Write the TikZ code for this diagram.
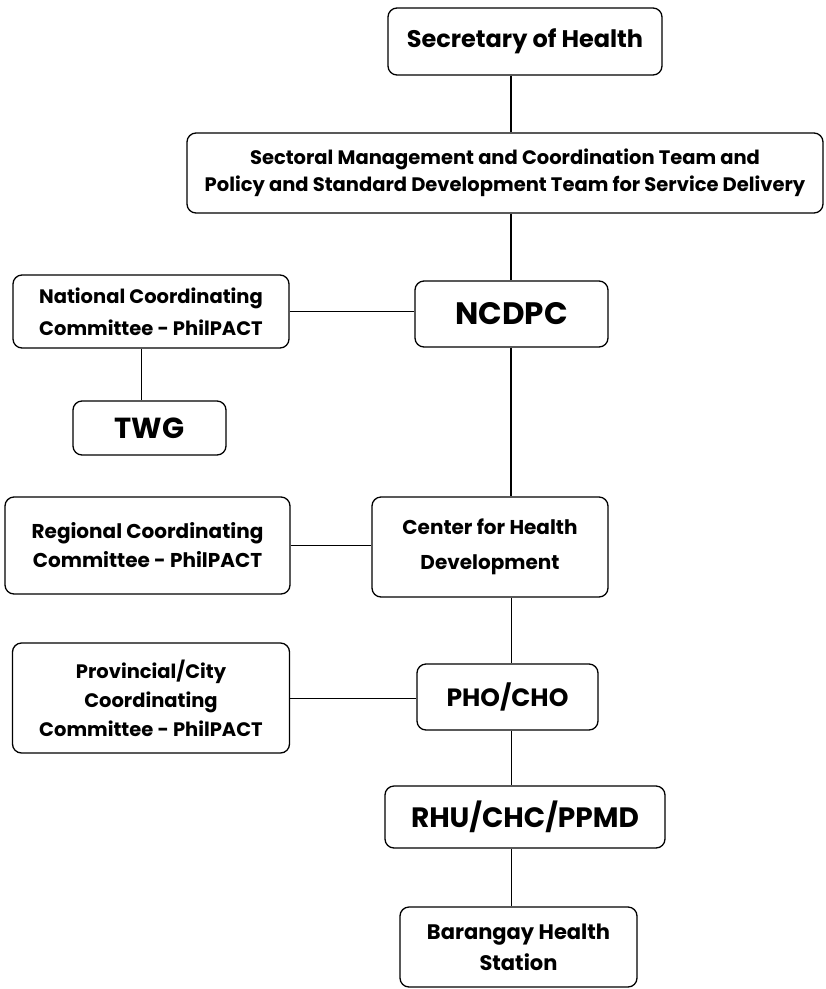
\documentclass[tikz,border=0pt]{standalone}
\usepackage{fontspec}
\setmainfont{Poppins}
\begin{document}
\begin{tikzpicture}[x=1pt,y=-1pt,
  box/.style={draw=black, rounded corners=9pt, line width=1.3pt, align=center, inner sep=0pt},
  big/.style={font=\bfseries\fontsize{24}{30}\selectfont},
  thick line/.style={line width=2.2pt},
  thin line/.style={line width=1pt}]
\useasboundingbox (0,0) rectangle (826,989);
\fill[white] (0,0) rectangle (826,989);
\coordinate (tx) at (511,0);
\coordinate (tw) at (141,0);
\node[box,big, minimum width=274pt, minimum height=67pt] (sec) at (525,41.5) {Secretary of Health};
\node[box, font=\bfseries\fontsize{19.5}{27}\selectfont, minimum width=636pt, minimum height=80pt] (sect) at (505,173) {Sectoral Management and Coordination Team and\\Policy and Standard Development Team for Service Delivery};
\node[box, font=\bfseries\fontsize{31}{36}\selectfont, minimum width=193pt, minimum height=66pt] (ncdpc) at (511.5,314) {NCDPC};
\node[box, font=\bfseries\fontsize{19.5}{32}\selectfont, minimum width=276pt, minimum height=73pt] (ncc) at (151,311.5) {National Coordinating\\Committee - PhilPACT};
\node[box, font=\bfseries\fontsize{29}{34}\selectfont, minimum width=153pt, minimum height=54pt] (twg) at (149.5,428) {TWG};
\node[box, font=\bfseries\fontsize{20}{29}\selectfont, minimum width=285pt, minimum height=97pt] (rcc) at (147.5,545.5) {Regional Coordinating\\Committee - PhilPACT};
\node[box, font=\bfseries\fontsize{20}{35}\selectfont, minimum width=236pt, minimum height=100pt] (chd) at (490,547) {Center for Health\\Development};
\node[box, font=\bfseries\fontsize{19.5}{29}\selectfont, minimum width=277pt, minimum height=110pt] (pcc) at (151,698) {Provincial/City\\Coordinating\\Committee - PhilPACT};
\node[box, font=\bfseries\fontsize{25}{30}\selectfont, minimum width=181pt, minimum height=66pt] (pho) at (507.5,697) {PHO/CHO};
\node[box, font=\bfseries\fontsize{28}{32}\selectfont, minimum width=280pt, minimum height=62pt] (rhu) at (525,817) {RHU/CHC/PPMD};
\node[box, font=\bfseries\fontsize{21}{31}\selectfont, minimum width=237pt, minimum height=80pt] (bhs) at (518.5,947) {Barangay Health\\Station};
\draw[thick line] (sec.south -| tx) -- (sect.north -| tx);
\draw[thick line] (sect.south -| tx) -- (ncdpc.north -| tx);
\draw[thin line] (ncc.east) -- (ncc.east -| ncdpc.west);
\draw[thin line] (ncc.south -| tw) -- (twg.north -| tw);
\draw[thick line] (ncdpc.south -| tx) -- (chd.north -| tx);
\draw[thin line] (rcc.east) -- (rcc.east -| chd.west);
\draw[thin line] (chd.south -| tx) -- (pho.north -| tx);
\draw[thin line] (pcc.east) -- (pcc.east -| pho.west);
\draw[thin line] (pho.south -| tx) -- (rhu.north -| tx);
\draw[thin line] (rhu.south -| tx) -- (bhs.north -| tx);
\end{tikzpicture}
\end{document}
